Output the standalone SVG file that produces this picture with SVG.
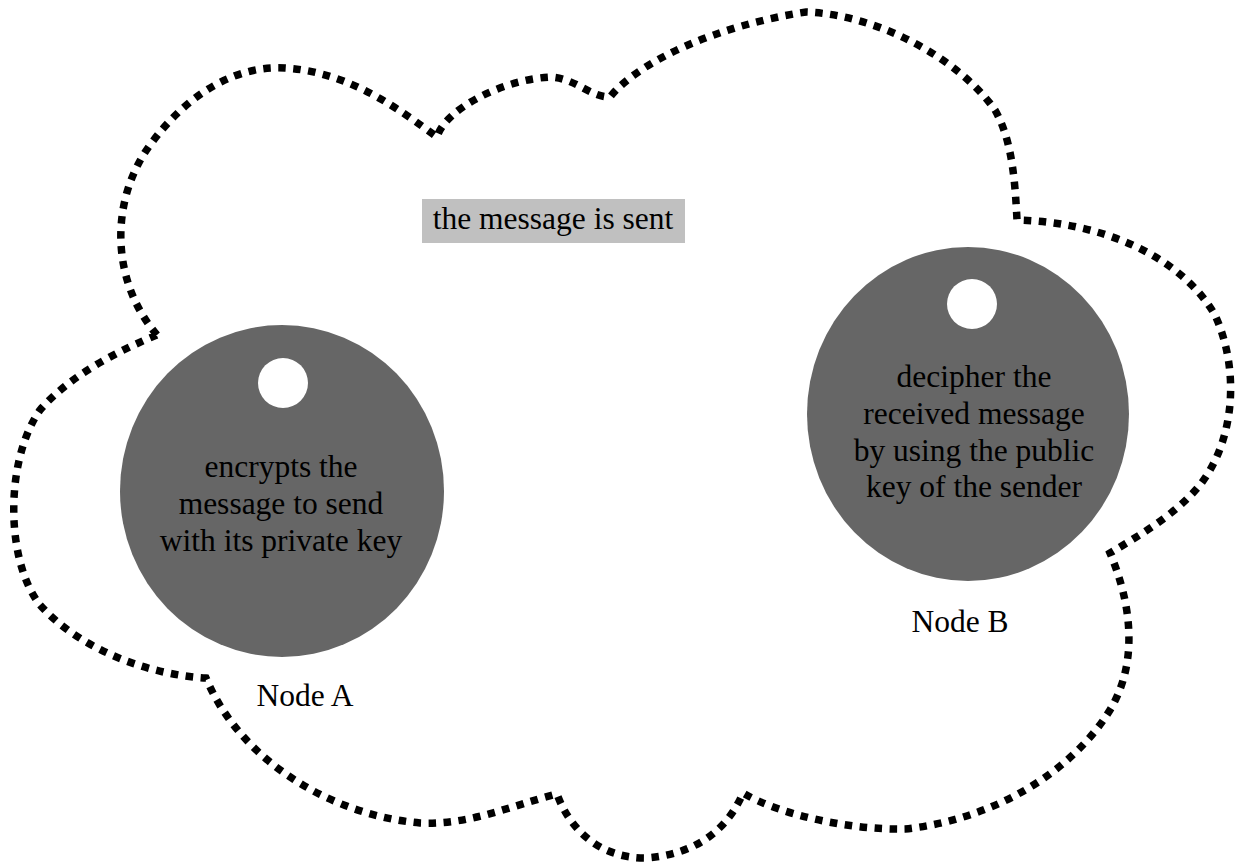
<svg xmlns="http://www.w3.org/2000/svg" width="1242" height="868" viewBox="0 0 1242 868">
<style>
.cloud{fill:none;stroke:#000;stroke-width:7.5;stroke-dasharray:7.5 7.5}
.node{fill:#666666}
.hole{fill:#ffffff}
.t{font-family:"Liberation Serif","Times New Roman",serif;font-size:31.5px;fill:#000;text-anchor:middle}
</style>
<rect width="1242" height="868" fill="#ffffff"/>
<g id="connectors">
<path id="cloud" class="cloud" d="M157,335 C110,280 110,200 150,145 C190,90 240,65 285,68 C350,72 400,110 437,137 C445,110 500,80 550,77 C575,78 590,97 610,97 C640,60 720,25 806,12 C880,15 960,60 995,110 C1012,140 1015,180 1017,220 C1100,222 1180,255 1215,315 C1240,370 1235,440 1200,485 C1175,515 1140,535 1110,553 C1130,600 1140,660 1110,710 C1070,775 990,820 905,829 C850,830 780,815 743,793 C725,835 690,855 645,858 C600,858 570,830 557,794 C510,806 470,825 420,823 C330,815 240,760 206,678 C150,675 80,650 40,605 C5,560 5,460 40,410 C70,375 120,350 157,335 Z"/>
</g>
<g id="label-sent">
<rect x="422" y="199" width="263" height="44" fill="#c0c0c0"/>
<text class="t" x="553" y="229">the message is sent</text>
</g>
<g id="nodeA">
<ellipse class="node" cx="282" cy="491" rx="162" ry="166"/>
<circle class="hole" cx="283" cy="383" r="25"/>
<text class="t" x="281" y="477">encrypts the</text>
<text class="t" x="281" y="514">message to send</text>
<text class="t" x="281" y="551">with its private key</text>
<text class="t" x="305" y="706">Node A</text>
</g>
<g id="nodeB">
<ellipse class="node" cx="968" cy="414" rx="161" ry="167"/>
<circle class="hole" cx="972" cy="304" r="25"/>
<text class="t" x="974" y="387">decipher the</text>
<text class="t" x="974" y="424">received message</text>
<text class="t" x="974" y="461">by using the public</text>
<text class="t" x="974" y="497">key of the sender</text>
<text class="t" x="960" y="632">Node B</text>
</g>
</svg>
